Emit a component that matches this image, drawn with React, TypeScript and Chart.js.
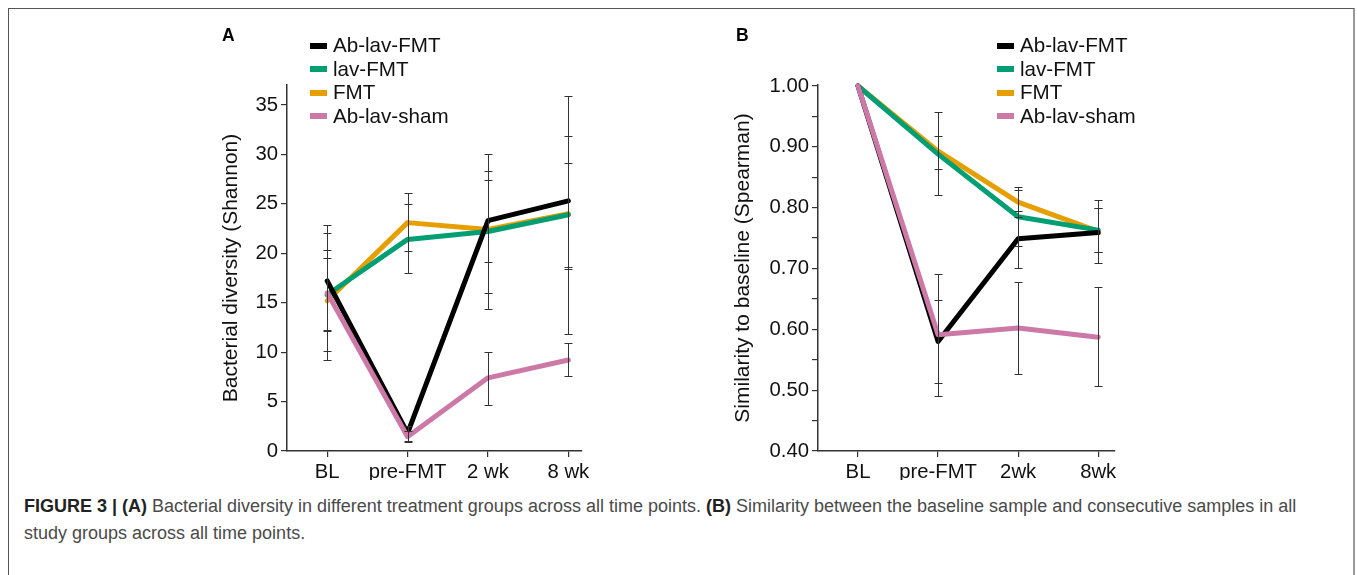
import React, { useEffect, useRef } from "react";
import { Chart, registerables } from "chart.js";
Chart.register(...registerables);

const FONT = '"Liberation Sans", Arial, Helvetica, sans-serif';
Chart.defaults.font.family = FONT;

// ---------- shared ----------
const seriesNames = ["Ab-lav-FMT", "lav-FMT", "FMT", "Ab-lav-sham"];
const seriesColors = ["#000000", "#009E73", "#E69F00", "#CC79A7"];
const drawOrder = [1, 2, 3, 0]; // lower = drawn on top

// ---------- panel A : Shannon diversity ----------
const timepointsA = ["BL", "pre-FMT", "2 wk", "8 wk"];
const yTicksA = [0, 5, 10, 15, 20, 25, 30, 35];

const shannonAbLavFmt = [17.2, 1.8, 23.3, 25.3];
const shannonLavFmt = [15.8, 21.4, 22.2, 23.9];
const shannonFmt = [15.2, 23.1, 22.4, 24.0];
const shannonAbLavSham = [16.0, 1.45, 7.4, 9.2];

const shannonAbLavFmtLo = [9.2, 1.0, 19.1, 18.6];
const shannonAbLavFmtHi = [22.9, 2.5, 28.35, 31.9];
const shannonLavFmtLo = [12.1, 17.97, 15.95, 18.4];
const shannonLavFmtHi = [20.3, 24.95, 27.4, 29.1];
const shannonFmtLo = [12.2, 20.2, 14.4, 11.8];
const shannonFmtHi = [19.5, 26.1, 30.0, 35.9];
const shannonAbLavShamLo = [10.1, 0.9, 4.7, 7.6];
const shannonAbLavShamHi = [22.0, 2.0, 10.05, 10.9];

// ---------- panel B : similarity to baseline ----------
const timepointsB = ["BL", "pre-FMT", "2wk", "8wk"];
const yTicksB = [0.4, 0.45, 0.5, 0.55, 0.6, 0.65, 0.7, 0.75, 0.8, 0.85, 0.9, 0.95, 1.0];

const simAbLavFmt = [1.0, 0.58, 0.749, 0.759];
const simLavFmt = [1.0, 0.888, 0.785, 0.763];
const simFmt = [1.0, 0.893, 0.809, 0.761];
const simAbLavSham = [1.0, 0.591, 0.602, 0.587];

const simAbLavFmtLo = [1.0, 0.491, 0.7, 0.709];
const simAbLavFmtHi = [1.0, 0.691, 0.794, 0.813];
const simLavFmtLo = [1.0, 0.863, 0.737, 0.727];
const simLavFmtHi = [1.0, 0.917, 0.829, 0.8];
const simFmtLo = [1.0, 0.82, 0.784, 0.727];
const simFmtHi = [1.0, 0.958, 0.834, 0.8];
const simAbLavShamLo = [1.0, 0.512, 0.527, 0.507];
const simAbLavShamHi = [1.0, 0.649, 0.678, 0.669];

const errorBarPlugin = {
  id: "errorBars",
  afterDatasetsDraw(chart: any) {
    const ctx = chart.ctx;
    const xs = chart.scales.x;
    const ys = chart.scales.y;
    ctx.save();
    ctx.strokeStyle = "#333333";
    ctx.lineWidth = 1;
    chart.data.datasets.forEach((ds: any) => {
      const lo: number[] = ds.errLo;
      const hi: number[] = ds.errHi;
      if (!lo || !hi) return;
      lo.forEach((l, i) => {
        const h = hi[i];
        if (l === h) return;
        const x = Math.round(xs.getPixelForValue(i)) + 0.5;
        const y1 = Math.round(ys.getPixelForValue(l)) + 0.5;
        const y2 = Math.round(ys.getPixelForValue(h)) + 0.5;
        ctx.beginPath();
        ctx.moveTo(x, y1);
        ctx.lineTo(x, y2);
        ctx.moveTo(x - 4, y1);
        ctx.lineTo(x + 4, y1);
        ctx.moveTo(x - 4, y2);
        ctx.lineTo(x + 4, y2);
        ctx.stroke();
      });
    });
    ctx.restore();
  },
};

const legendPlugin = {
  id: "customLegend",
  afterDraw(chart: any, _args: any, opts: any) {
    const ctx = chart.ctx;
    ctx.save();
    ctx.font = `20.6px ${FONT}`;
    ctx.textBaseline = "middle";
    ctx.textAlign = "left";
    chart.data.datasets.forEach((ds: any, i: number) => {
      const y = opts.y0 + i * opts.dy;
      ctx.fillStyle = ds.borderColor;
      ctx.fillRect(opts.x, Math.round(y - 3), 17, 6);
      ctx.fillStyle = "#111111";
      ctx.fillText(ds.label, opts.x + 23, y + 1);
    });
    ctx.restore();
  },
};

type PanelCfg = {
  labels: string[];
  series: number[][];
  lo: number[][];
  hi: number[][];
  yTicks: number[];
  yMin: number;
  yMax: number;
  xMax: number;
  yTitle: string;
  yAxisW: number;
  titlePad: number;
  padRight: number;
  legendX: number;
  fmt: (v: number) => string;
};

function Panel({ cfg, width, height }: { cfg: PanelCfg; width: number; height: number }) {
  const ref = useRef<HTMLCanvasElement | null>(null);
  useEffect(() => {
    if (!ref.current) return;
    const datasets = cfg.series.map((vals, k) => ({
      label: seriesNames[k],
      data: vals.map((v, i) => ({ x: i, y: v })),
      borderColor: seriesColors[k],
      backgroundColor: seriesColors[k],
      borderWidth: 5,
      borderCapStyle: "round",
      borderJoinStyle: "round",
      pointRadius: 0,
      tension: 0,
      fill: false,
      clip: false,
      order: drawOrder[k],
      errLo: cfg.lo[k],
      errHi: cfg.hi[k],
    }));
    const chart = new Chart(ref.current, {
      type: "line",
      data: { datasets } as any,
      options: {
        responsive: false,
        animation: false,
        events: [],
        layout: { padding: { left: 0, top: 85, right: cfg.padRight, bottom: 0 } },
        plugins: {
          legend: { display: false },
          tooltip: { enabled: false },
          customLegend: { x: cfg.legendX, y0: 45.5, dy: 23.5 },
        } as any,
        scales: {
          x: {
            type: "linear",
            min: -0.5,
            max: cfg.xMax,
            afterBuildTicks: (s: any) => {
              s.ticks = cfg.labels.map((_, i) => ({ value: i }));
            },
            afterFit: (s: any) => {
              s.height = 29;
              s.paddingLeft = 0;
              s.paddingRight = 0;
            },
            ticks: {
              autoSkip: false,
              maxRotation: 0,
              padding: 3,
              color: "#111111",
              font: { size: 20.3 },
              callback: (v: any) => cfg.labels[Math.round(Number(v))],
            },
            grid: {
              display: true,
              drawOnChartArea: false,
              drawTicks: true,
              tickLength: 6,
              color: "#333333",
              lineWidth: 1.2,
            },
            border: { display: true, color: "#333333", width: 1.5 },
          },
          y: {
            type: "linear",
            min: cfg.yMin,
            max: cfg.yMax,
            afterBuildTicks: (s: any) => {
              s.ticks = cfg.yTicks.map((v) => ({ value: v }));
            },
            afterFit: (s: any) => {
              s.width = cfg.yAxisW;
              s.paddingTop = 0;
              s.paddingBottom = 0;
            },
            ticks: {
              padding: 3,
              color: "#111111",
              font: { size: 20.3 },
              callback: (v: any) => cfg.fmt(Number(v)),
            },
            grid: {
              display: true,
              drawOnChartArea: false,
              drawTicks: true,
              tickLength: 6,
              color: "#333333",
              lineWidth: 1.2,
            },
            border: { display: true, color: "#333333", width: 1.5 },
            title: {
              display: true,
              text: cfg.yTitle,
              color: "#111111",
              font: { size: 21 },
              padding: { top: cfg.titlePad, bottom: 0 },
            },
          },
        },
      } as any,
      plugins: [errorBarPlugin, legendPlugin],
    });
    return () => chart.destroy();
  }, []);
  return <canvas ref={ref} width={width} height={height} style={{ display: "block", width, height }} />;
}

const cfgA: PanelCfg = {
  labels: timepointsA,
  series: [shannonAbLavFmt, shannonLavFmt, shannonFmt, shannonAbLavSham],
  lo: [shannonAbLavFmtLo, shannonLavFmtLo, shannonFmtLo, shannonAbLavShamLo],
  hi: [shannonAbLavFmtHi, shannonLavFmtHi, shannonFmtHi, shannonAbLavShamHi],
  yTicks: yTicksA,
  yMin: 0,
  yMax: 37.02,
  xMax: 3.17,
  yTitle: "Bacterial diversity (Shannon)",
  yAxisW: 87,
  titlePad: 18.4,
  padRight: 18,
  legendX: 110,
  fmt: (v) => String(Math.round(v)),
};

const cfgB: PanelCfg = {
  labels: timepointsB,
  series: [simAbLavFmt, simLavFmt, simFmt, simAbLavSham],
  lo: [simAbLavFmtLo, simLavFmtLo, simFmtLo, simAbLavShamLo],
  hi: [simAbLavFmtHi, simLavFmtHi, simFmtHi, simAbLavShamHi],
  yTicks: yTicksB,
  yMin: 0.4,
  yMax: 1.0016,
  xMax: 3.21,
  yTitle: "Similarity to baseline (Spearman)",
  yAxisW: 106,
  titlePad: 19,
  padRight: 57,
  legendX: 285,
  fmt: (v) => (Math.round(v * 100) % 10 === 0 ? v.toFixed(2) : ""),
};

export default function App() {
  return (
    <div style={{ position: "fixed", left: 0, top: 0, width: 1357, height: 575, background: "#fff", overflow: "hidden" }}>
      <div
        style={{
          position: "absolute",
          left: 8,
          top: 8,
          width: 1347,
          height: 620,
          boxSizing: "border-box",
          borderTop: "1px solid #555",
          borderLeft: "1px solid #555",
          borderRight: "2px solid #999",
        }}
      />
      <div style={{ position: "absolute", left: 200, top: 0 }}>
        <Panel cfg={cfgA} width={400} height={480} />
      </div>
      <div style={{ position: "absolute", left: 712, top: 0 }}>
        <Panel cfg={cfgB} width={460} height={480} />
      </div>
      <div style={{ position: "absolute", left: 222, top: 27, font: `bold 17.5px ${FONT}`, lineHeight: "17px", color: "#000" }}>A</div>
      <div style={{ position: "absolute", left: 736, top: 27, font: `bold 17.5px ${FONT}`, lineHeight: "17px", color: "#000" }}>B</div>
      <div
        style={{
          position: "absolute",
          left: 24,
          top: 493,
          font: `18px ${FONT}`,
          lineHeight: "27px",
          color: "#4a4a4a",
          whiteSpace: "nowrap",
        }}
      >
        <b style={{ color: "#222" }}>FIGURE 3 | (A)</b> Bacterial diversity in different treatment groups across all time points.{" "}
        <b style={{ color: "#222" }}>(B)</b> Similarity between the baseline sample and consecutive samples in all
        <br />
        study groups across all time points.
      </div>
    </div>
  );
}
